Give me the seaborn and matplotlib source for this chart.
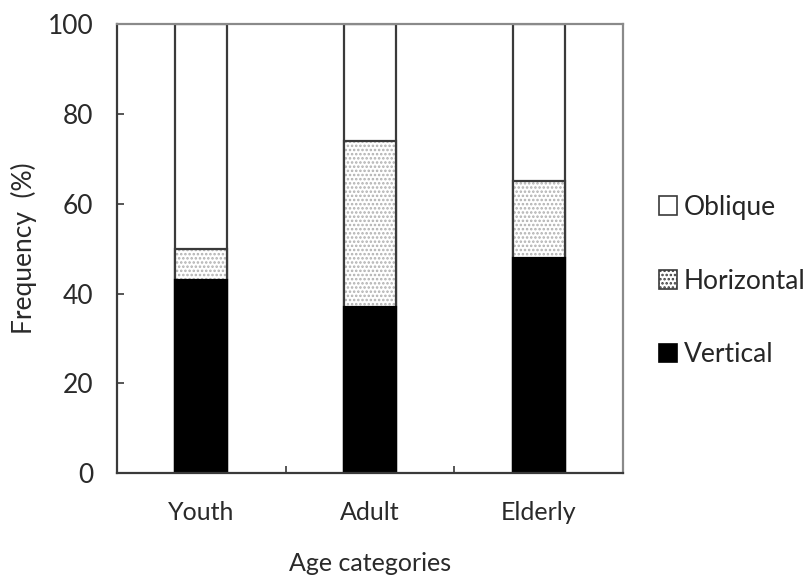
import numpy as np
import pandas as pd
import matplotlib
matplotlib.use("Agg")
import matplotlib.pyplot as plt
import seaborn as sns
from matplotlib.patches import Patch

# data (%)
categories = ["Youth", "Adult", "Elderly"]
vertical = [43, 37, 48]
horizontal = [7, 37, 17]
oblique = [50, 26, 35]

sns.set_theme(style="white")
plt.rcParams['font.family'] = ['Lato', 'DejaVu Sans']
plt.rcParams['hatch.linewidth'] = 1.2

df = pd.DataFrame({"cat": categories, "v": vertical, "h": horizontal, "o": oblique})
df["vh"] = df["v"] + df["h"]
df["total"] = df["vh"] + df["o"]

fig = plt.figure(figsize=(8.07, 5.77), dpi=100)
ax = fig.add_axes([0.145, 0.180, 0.627, 0.778])

edge = "#3a3a3a"
txt = "#2a2a2a"
w = 0.31
# stacked bars: draw cumulative totals, tallest first
sns.barplot(data=df, x="cat", y="total", color="white", edgecolor=edge,
            linewidth=1.6, width=w, saturation=1, ax=ax)
sns.barplot(data=df, x="cat", y="vh", color="white", edgecolor="#b0b0b0",
            linewidth=0, hatch="....", width=w, saturation=1, ax=ax)
sns.barplot(data=df, x="cat", y="vh", fill=False, edgecolor=edge,
            linewidth=1.6, width=w, ax=ax)
sns.barplot(data=df, x="cat", y="v", color="black", edgecolor="black",
            linewidth=1.6, width=w, saturation=1, ax=ax)

ax.set_xlim(-0.5, 2.5)
ax.set_ylim(0, 100)
ax.set_yticks([0, 20, 40, 60, 80, 100])
ax.set_xticks([0, 1, 2])
ax.set_xticklabels(categories)
ax.set_xticks([0.5, 1.5], minor=True)
ax.tick_params(axis="x", which="major", length=0, pad=20, labelsize=18, colors=txt)
ax.tick_params(axis="x", which="minor", direction="in", length=5, width=1.2, color=edge, bottom=True)
ax.tick_params(axis="y", direction="in", length=5, width=1.2, color=edge, left=True,
               pad=17, labelsize=19, labelcolor=txt)

ax.set_xlabel("Age categories", fontsize=18, color=txt, labelpad=20)
ax.set_ylabel("Frequency  (%)", fontsize=19, color=txt, labelpad=8)

for s in ["left", "bottom"]:
    ax.spines[s].set_color(edge)
    ax.spines[s].set_linewidth(1.6)
for s in ["top", "right"]:
    ax.spines[s].set_visible(True)
    ax.spines[s].set_color("#8a8a8a")
    ax.spines[s].set_linewidth(1.6)

handles = [
    Patch(facecolor="white", edgecolor=edge, linewidth=1.2, label="Oblique"),
    Patch(facecolor="white", edgecolor=edge, hatch="....", linewidth=1.2, label="Horizontal"),
    Patch(facecolor="black", edgecolor="black", linewidth=1.2, label="Vertical"),
]
ax.legend(handles=handles, loc="center left", bbox_to_anchor=(1.05, 0.428),
          frameon=False, fontsize=19, handlelength=0.7, handleheight=0.7,
          handletextpad=0.25, labelspacing=1.85, borderaxespad=0)

fig.savefig("out.png", dpi=100)
